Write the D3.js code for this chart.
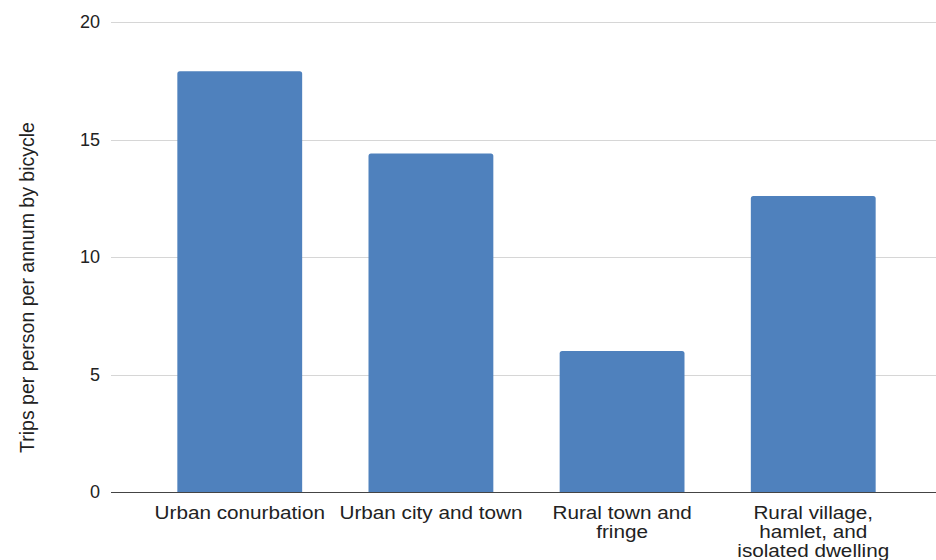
<!DOCTYPE html>
<html>
<head>
<meta charset="utf-8">
<script src="https://cdn.jsdelivr.net/npm/d3@7"></script>
<style>
  html, body { margin: 0; padding: 0; background: #fff; }
  svg { display: block; font-family: "Liberation Sans", Arial, sans-serif; }
</style>
</head>
<body>
<svg id="chart" width="936" height="560"></svg>
<script>
// Area types (line breaks mark how the axis labels wrap)
const categories = [
  "Urban conurbation",
  "Urban city and town",
  "Rural town and\nfringe",
  "Rural village,\nhamlet, and\nisolated dwelling"
];
// Trips per person per annum by bicycle
const values = [17.9, 14.4, 6.0, 12.6];
const yTicks = [0, 5, 10, 15, 20];
const yTitle = "Trips per person per annum by bicycle";

const svg = d3.select("#chart");
const W = 936, H = 560;
const plot = { left: 111, right: 942, top: 22, bottom: 492 };

const x = d3.scaleBand()
  .domain(categories)
  .range([plot.left, plot.right])
  .paddingInner(0.347)
  .paddingOuter(0.347);

const y = d3.scaleLinear()
  .domain([0, 20])
  .range([plot.bottom, plot.top]);

// Horizontal gridlines
svg.append("g")
  .selectAll("line")
  .data(yTicks.filter(d => d !== 0))
  .join("line")
  .attr("x1", plot.left)
  .attr("x2", W)
  .attr("y1", d => Math.round(y(d)) + 0.5)
  .attr("y2", d => Math.round(y(d)) + 0.5)
  .attr("stroke", "#d6d6d6")
  .attr("stroke-width", 1);

// Y tick labels
svg.append("g")
  .selectAll("text")
  .data(yTicks)
  .join("text")
  .attr("x", 100)
  .attr("y", d => y(d))
  .attr("dy", "0.35em")
  .attr("text-anchor", "end")
  .attr("font-size", 18)
  .attr("fill", "#222")
  .text(d => d);

// Bars with slightly rounded top corners
const r = 2.5;
function barPath(d, i) {
  const x0 = x(categories[i]), w = x.bandwidth();
  const yt = y(d), yb = y(0);
  return `M${x0},${yb}V${yt + r}Q${x0},${yt} ${x0 + r},${yt}` +
         `H${x0 + w - r}Q${x0 + w},${yt} ${x0 + w},${yt + r}V${yb}Z`;
}
svg.append("g")
  .selectAll("path")
  .data(values)
  .join("path")
  .attr("d", (d, i) => barPath(d, i))
  .attr("fill", "#4f81bd");

// Baseline
svg.append("line")
  .attr("x1", plot.left)
  .attr("x2", W)
  .attr("y1", Math.round(y(0)) + 0.5)
  .attr("y2", Math.round(y(0)) + 0.5)
  .attr("stroke", "#444")
  .attr("stroke-width", 1.2);

// Category labels (slightly widened glyphs)
const labels = svg.append("g")
  .selectAll("text")
  .data(categories)
  .join("text")
  .attr("text-anchor", "middle")
  .attr("font-size", 18.5)
  .attr("fill", "#222")
  .attr("transform", d => `translate(${x(d) + x.bandwidth() / 2},519) scale(1.12,1)`);
labels.selectAll("tspan")
  .data(d => d.split("\n"))
  .join("tspan")
  .attr("x", 0)
  .attr("y", (d, i) => i * 19)
  .text(d => d);

// Y axis title
svg.append("text")
  .attr("transform", "translate(34,287.5) rotate(-90)")
  .attr("text-anchor", "middle")
  .attr("font-size", 19.5)
  .attr("fill", "#222")
  .text(yTitle);
</script>
</body>
</html>
